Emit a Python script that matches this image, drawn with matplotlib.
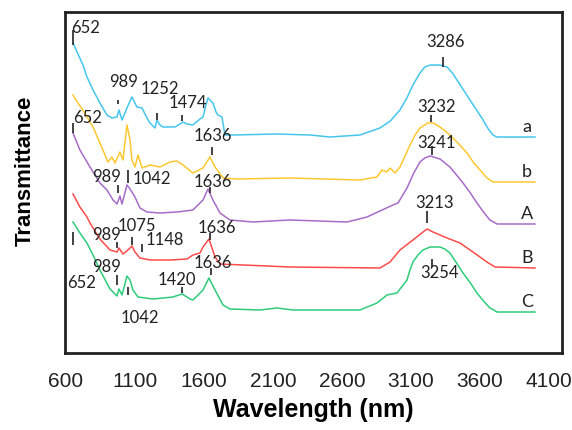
import matplotlib
matplotlib.use("Agg")
import matplotlib.pyplot as plt

# ── Spectra (wavenumber, transmittance a.u.) ─────────────────────────────────
a_x = [651, 723, 752, 796, 846, 897, 933, 970, 984, 1006, 1042, 1078, 1100, 1114,
       1151, 1187, 1209, 1245, 1259, 1281, 1303, 1390, 1426, 1448, 1477, 1520,
       1571, 1593, 1614, 1629, 1665, 1687, 1701, 1730, 1752, 1810, 2129, 2368,
       2513, 2730, 2875, 2950, 3020, 3070, 3114, 3165, 3200, 3240, 3310, 3361,
       3400, 3433, 3480, 3527, 3575, 3622, 3660, 3694, 3720, 3745, 3998]
a_y = [310, 288, 276, 263, 250, 238, 235, 236, 243, 233, 245, 256, 250, 246,
       245, 235, 230, 225, 233, 228, 226, 226, 229, 231, 229, 228,
       234, 236, 248, 255, 250, 241, 238, 236, 218, 218, 219, 218,
       216, 218, 225, 232, 243, 255, 268, 280, 286, 288, 288, 286,
       280, 273, 263, 253, 243, 233, 224, 218, 216, 216, 216]

b_x = [651, 687, 723, 796, 868, 904, 933, 955, 991, 1013, 1042, 1064, 1078, 1100,
       1122, 1151, 1209, 1281, 1354, 1404, 1448, 1520, 1593, 1643, 1680, 1738,
       1839, 2223, 2730, 2853, 2890, 2926, 2948, 2984, 3020, 3050, 3093, 3130,
       3165, 3223, 3259, 3288, 3330, 3382, 3440, 3506, 3550, 3600, 3650, 3694, 3998]
b_y = [258, 250, 243, 226, 203, 191, 196, 190, 201, 193, 228, 213, 193, 186,
       198, 185, 188, 186, 191, 192, 188, 180, 185, 196, 186, 175,
       174, 175, 173, 176, 183, 181, 185, 180, 186, 195, 208, 218,
       225, 230, 230, 228, 224, 218, 210, 200, 191, 183, 175, 171, 171]

A_x = [651, 701, 774, 846, 897, 941, 970, 991, 1006, 1042, 1064, 1100, 1136, 1187,
       1281, 1404, 1520, 1593, 1629, 1665, 1716, 1788, 1955, 2223, 2636, 2781,
       2875, 2969, 3006, 3071, 3120, 3165, 3200, 3238, 3310, 3382, 3430, 3477,
       3530, 3578, 3625, 3672, 3723, 3998]
A_y = [220, 203, 186, 170, 163, 153, 149, 157, 149, 168, 164, 156, 145, 141,
       140, 141, 143, 153, 164, 153, 140, 133, 131, 133, 131, 136,
       142, 148, 150, 165, 180, 191, 195, 197, 194, 186, 178, 170,
       160, 150, 141, 133, 129, 129]

B_x = [651, 701, 752, 774, 846, 919, 970, 984, 1013, 1049, 1078, 1100, 1136, 1209,
       1354, 1477, 1520, 1571, 1593, 1636, 1680, 1716, 1883, 2223, 2875, 2948,
       3020, 3114, 3187, 3216, 3259, 3361, 3455, 3549, 3650, 3709, 3998]
B_y = [159, 146, 136, 130, 114, 103, 101, 105, 99, 103, 107, 101, 95, 93,
       93, 94, 98, 100, 106, 114, 96, 89, 88, 86, 85, 91,
       103, 113, 121, 124, 121, 115, 110, 101, 91, 86, 85]

C_x = [651, 701, 752, 796, 846, 919, 970, 984, 1006, 1042, 1064, 1085, 1122, 1230,
       1375, 1441, 1499, 1520, 1593, 1636, 1680, 1738, 1788, 2006, 2129, 2245,
       2730, 2853, 2926, 2998, 3071, 3090, 3114, 3150, 3187, 3238, 3310, 3345,
       3382, 3430, 3477, 3530, 3578, 3625, 3672, 3700, 3723, 3998]
C_y = [131, 120, 110, 98, 83, 64, 57, 64, 58, 77, 73, 63, 56, 54,
       56, 59, 54, 53, 63, 75, 63, 48, 44, 43, 45, 43,
       43, 50, 58, 60, 73, 82, 91, 98, 103, 106, 106, 104,
       100, 90, 80, 70, 60, 52, 45, 43, 41, 41]

SERIES = [("a", a_x, a_y, "#45C6EE"),
          ("b", b_x, b_y, "#FFC830"),
          ("A", A_x, A_y, "#A86CC8"),
          ("B", B_x, B_y, "#FF4B4B"),
          ("C", C_x, C_y, "#2ECC7A")]

# peak labels: text, label pos (x, y), tick x, tick y0, tick y1
PEAKS = [
    ("652", 745, 325, 651, 308, 323),
    ("989", 1020, 271, 980, 249, 253),
    ("1252", 1281, 264, 1259, 233, 240),
    ("1474", 1484, 250, 1441, 232, 238),
    ("3286", 3353, 311, 3332, 286, 296),
    ("1636", 1665, 217, 1658, 198, 206),
    ("3232", 3288, 246, 3245, 231, 238),
    ("652", 759, 235, 651, 220, 230),
    ("989", 897, 176, 977, 160, 168),
    ("1042", 1223, 174, 1049, 170, 183),
    ("1636", 1665, 171, 1643, 160, 166),
    ("3241", 3288, 210, 3252, 198, 207),
    ("989", 897, 118, 970, 105, 111),
    ("1075", 1114, 127, 1078, 108, 116),
    ("1148", 1317, 113, 1151, 101, 109),
    ("1636", 1694, 125, 1643, 113, 120),
    ("3213", 3274, 150, 3216, 130, 142),
    ("652", 716, 70, 651, 108, 121),
    ("989", 897, 86, 970, 68, 78),
    ("1042", 1136, 35, 1049, 58, 66),
    ("1420", 1404, 73, 1441, 60, 66),
    ("1636", 1665, 90, 1650, 78, 85),
    ("3254", 3310, 80, 3252, 86, 94),
]

XTICKS = [600, 1100, 1600, 2100, 2600, 3100, 3600, 4100]

fig = plt.figure(figsize=(5.72, 4.30), dpi=100)
ax = fig.add_axes([65/572, 1 - 353/430, 497/572, 341/430])

for name, xs, ys, col in SERIES:
    ax.plot(xs, ys, color=col, lw=1.1)
    ax.text(3940, ys[-1] + 10, name, ha="center", va="center",
            fontsize=13, family="Lato", color="#222")

for txt, lx, ly, tx, t0, t1 in PEAKS:
    ax.text(lx, ly, txt, ha="center", va="center", fontsize=12,
            family="Lato", color="#222")
    ax.vlines(tx, t0, t1, color="#222", lw=1.2)

ax.set_xlim(593, 4194)
ax.set_ylim(0, 341)
ax.set_xticks(XTICKS)
ax.set_xticklabels([str(t) for t in XTICKS], fontsize=15,
                   family="Liberation Sans", color="#222")
ax.tick_params(axis="x", length=0, pad=14)
ax.set_yticks([])
for s in ax.spines.values():
    s.set_linewidth(2)
    s.set_color("#222")

ax.set_xlabel("Wavelength (nm)", fontsize=18, fontweight="bold",
              family="Liberation Sans", labelpad=5)
ax.set_ylabel("Transmittance", fontsize=16, fontweight="bold",
              family="Liberation Sans")
ax.yaxis.set_label_coords(-0.058, 0.535)

fig.savefig("out.png", dpi=100)
